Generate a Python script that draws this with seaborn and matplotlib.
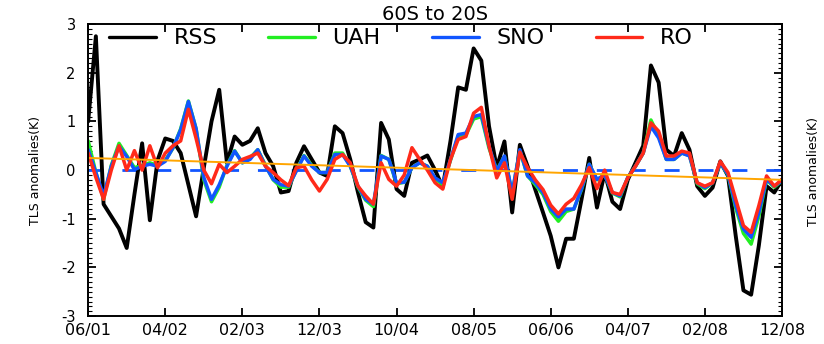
import numpy as np
import pandas as pd
import matplotlib
matplotlib.use("Agg")
import matplotlib.pyplot as plt
import seaborn as sns
from matplotlib.ticker import MultipleLocator

# meses de 06/2001 ate 12/2008 (indice 0..90)
meses = list(range(91))

rss = [1.0, 2.75, -0.7, -0.95, -1.2, -1.6, -0.5, 0.55, -1.03, 0.2,
       0.65, 0.6, 0.35, -0.3, -0.95, 0.05, 1.0, 1.65, 0.15, 0.69,
       0.52, 0.6, 0.86, 0.35, 0.08, -0.46, -0.43, 0.15, 0.49, 0.22,
       -0.05, -0.12, 0.9, 0.76, 0.22, -0.46, -1.07, -1.18, 0.97, 0.63,
       -0.39, -0.53, 0.15, 0.22, 0.3, 0.0, -0.35, 0.6, 1.7, 1.65,
       2.5, 2.25, 0.9, 0.05, 0.59, -0.87, 0.52, 0.08, -0.4, -0.87,
       -1.35, -2.0, -1.41, -1.41, -0.6, 0.25, -0.77, -0.05, -0.65, -0.8,
       -0.2, 0.15, 0.5, 2.15, 1.8, 0.42, 0.29, 0.76, 0.42, -0.33,
       -0.53, -0.36, 0.18, -0.12, -1.35, -2.47, -2.56, -1.55, -0.33, -0.46,
       -0.2]

uah = [0.6, -0.05, -0.6, 0.1, 0.55, 0.3, 0.05, 0.1, 0.15, 0.1,
       0.2, 0.45, 0.85, 1.42, 0.85, -0.2, -0.65, -0.35, 0.1, 0.4,
       0.15, 0.25, 0.42, 0.1, -0.2, -0.35, -0.35, 0.0, 0.3, 0.1,
       -0.05, -0.05, 0.35, 0.35, 0.08, -0.35, -0.62, -0.75, 0.3, 0.22,
       -0.28, -0.25, 0.05, 0.15, 0.08, -0.18, -0.3, 0.2, 0.7, 0.72,
       1.05, 1.1, 0.45, 0.0, 0.28, -0.48, 0.4, -0.12, -0.3, -0.5,
       -0.85, -1.05, -0.85, -0.8, -0.4, 0.12, -0.2, -0.1, -0.47, -0.55,
       -0.15, 0.08, 0.35, 1.03, 0.7, 0.22, 0.22, 0.35, 0.3, -0.28,
       -0.38, -0.26, 0.15, -0.1, -0.78, -1.3, -1.52, -0.95, -0.2, -0.35,
       -0.22]

sno = [0.42, -0.05, -0.53, 0.08, 0.49, 0.28, 0.01, 0.08, 0.12, 0.08,
       0.18, 0.46, 0.83, 1.41, 0.85, -0.15, -0.6, -0.3, 0.08, 0.39,
       0.15, 0.22, 0.42, 0.08, -0.19, -0.3, -0.33, -0.02, 0.29, 0.08,
       -0.05, -0.05, 0.32, 0.32, 0.08, -0.33, -0.6, -0.7, 0.29, 0.22,
       -0.26, -0.25, 0.05, 0.15, 0.08, -0.16, -0.26, 0.22, 0.73, 0.76,
       1.1, 1.14, 0.49, -0.02, 0.29, -0.46, 0.42, -0.12, -0.26, -0.46,
       -0.8, -0.96, -0.8, -0.8, -0.38, 0.12, -0.19, -0.1, -0.46, -0.53,
       -0.15, 0.08, 0.35, 0.9, 0.66, 0.22, 0.22, 0.35, 0.29, -0.26,
       -0.36, -0.26, 0.15, -0.09, -0.73, -1.21, -1.38, -0.87, -0.19, -0.33,
       -0.22]

ro = [0.35, -0.15, -0.6, 0.0, 0.5, 0.0, 0.4, 0.0, 0.5, 0.05,
      0.35, 0.5, 0.6, 1.25, 0.65, 0.0, -0.28, 0.12, -0.05, 0.08,
      0.22, 0.28, 0.35, 0.08, -0.05, -0.2, -0.32, 0.05, 0.08, -0.2,
      -0.43, -0.19, 0.22, 0.32, 0.15, -0.33, -0.53, -0.7, 0.15, -0.19,
      -0.33, -0.1, 0.46, 0.22, 0.0, -0.26, -0.39, 0.22, 0.63, 0.69,
      1.17, 1.29, 0.5, -0.16, 0.15, -0.6, 0.37, 0.05, -0.2, -0.4,
      -0.72, -0.9, -0.7, -0.58, -0.3, 0.05, -0.38, 0.0, -0.46, -0.5,
      -0.16, 0.08, 0.35, 0.97, 0.8, 0.29, 0.29, 0.39, 0.35, -0.26,
      -0.33, -0.26, 0.18, -0.05, -0.6, -1.14, -1.28, -0.73, -0.12, -0.33,
      -0.19]

# reta de tendencia (inicio e fim)
tend_meses = [0, 90]
tend_valores = [0.25, -0.2]

rotulos_x = ["06/01", "04/02", "02/03", "12/03", "10/04",
             "08/05", "06/06", "04/07", "02/08", "12/08"]

df = pd.DataFrame({"mes": meses, "RSS": rss, "UAH": uah, "SNO": sno, "RO": ro})
df_tend = pd.DataFrame({"mes": tend_meses, "valor": tend_valores})

sns.set_style("ticks")
plt.rcParams["font.family"] = ["DejaVu Sans"]
plt.rcParams["text.color"] = "black"
plt.rcParams["xtick.labelcolor"] = "black"
plt.rcParams["ytick.labelcolor"] = "black"
plt.rcParams["axes.labelcolor"] = "black"

fig = plt.figure(figsize=(8.24, 3.44), dpi=100)
ax = fig.add_axes([0.107, 0.081, 0.842, 0.849])

cores = {"RSS": "black", "UAH": "#22ee22", "SNO": "#1155ff", "RO": "#ff2a1a"}
larguras = {"RSS": 2.8, "UAH": 2.5, "SNO": 2.5, "RO": 2.5}
for nome in ["RSS", "UAH", "SNO", "RO"]:
    sns.lineplot(data=df, x="mes", y=nome, color=cores[nome], lw=larguras[nome],
                 label=nome, ax=ax)

ax.axhline(0, color="#1155ff", lw=2.0, ls=(0, (5.4, 6.8)), zorder=1)
sns.lineplot(data=df_tend, x="mes", y="valor", color="orange", lw=1.4, ax=ax)

ax.set_xlim(0, 90)
ax.set_ylim(-3, 3)
ax.set_xticks(range(0, 91, 10))
ax.set_xticklabels(rotulos_x, fontsize=11.5)
ax.set_yticks(range(-3, 4))
ax.set_yticklabels([str(v) for v in range(-3, 4)], fontsize=10.5)
ax.yaxis.set_minor_locator(MultipleLocator(0.1))
ax.tick_params(which="both", direction="in", top=True, right=True, color="black")
ax.tick_params(which="major", length=6, width=1.3)
ax.tick_params(axis="y", which="minor", length=3, width=0.8)
ax.tick_params(axis="x", which="minor", length=0)
ax.tick_params(axis="x", pad=5)
ax.tick_params(axis="y", pad=9)
for s in ax.spines.values():
    s.set_color("black")
    s.set_linewidth(1.4)

ax.set_xlabel("")
ax.set_ylabel("TLS anomalies(K)", fontsize=9)
ax.yaxis.set_label_coords(-0.066, 0.5)
ax.set_title("60S to 20S", fontsize=14, pad=2)

leg = ax.legend(ncol=4, frameon=False, loc="upper left", bbox_to_anchor=(0.03, 0.985),
                fontsize=16, handlelength=2.1, handletextpad=0.8, columnspacing=2.3,
                borderaxespad=0.0, borderpad=0.0)
for h in leg.get_lines():
    h.set_linewidth(2.4)

# painel vizinho cortado na borda direita
fig.text(0.987, 0.5, "TLS anomalies(K)", rotation=90, fontsize=9, va="center", ha="center")

fig.savefig("out.png", dpi=100)
